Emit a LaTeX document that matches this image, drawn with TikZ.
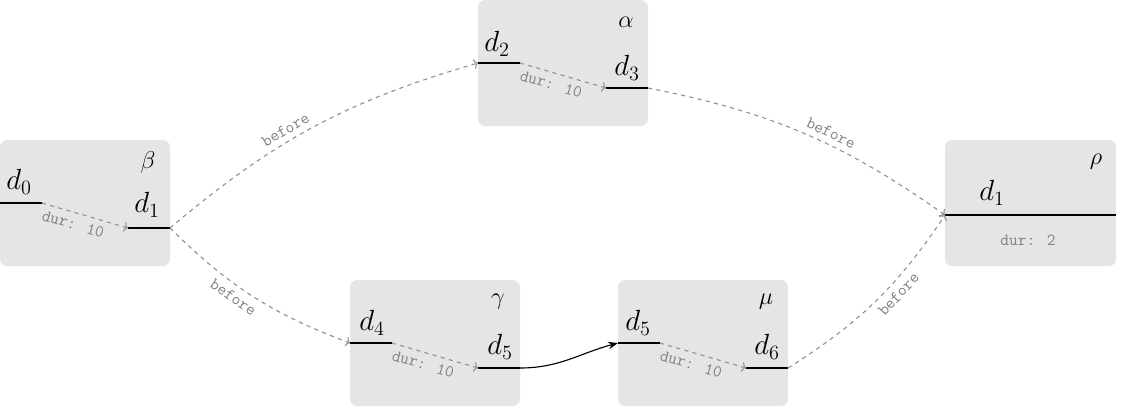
\documentclass[tikz,border=0pt]{standalone}
\usetikzlibrary{arrows.meta}
\begin{document}
\begin{tikzpicture}[x=0.025cm,y=-0.025cm]
    \tikzstyle{blok}= [fill=black!10,draw=none,rounded corners=5pt]
    \tikzstyle{dline}= [thick,black]
    \tikzstyle{sipkaD}= [gray!85,dashed,thick,-{To[length=3pt,width=7pt]}]
    \tikzstyle{sipkaB}= [gray!85,dashed,thick,-{To[length=3pt,width=7pt]}]
    \tikzstyle{sipkaS}= [black,thick,-{Stealth[length=7pt]}]
    \tikzstyle{lbl}= [font=\ttfamily\large,text=gray,inner sep=1pt]
  \useasboundingbox (0,0) rectangle (1138,409);
  % blocks: name/x/y/greek
  \foreach \n/\x/\y/\g in {beta/0/140/\beta,alpha/478/0/\alpha,gamma/350/280/\gamma,mu/618/280/\mu} {
    \fill[blok] (\x,\y) rectangle ++(170,126);
    \node[font=\LARGE] at (\x+148,\y+22) {$\g$};
    \coordinate (\n a) at (\x,\y+63);
    \coordinate (\n b) at (\x+42,\y+63);
    \coordinate (\n c) at (\x+128,\y+88);
    \coordinate (\n d) at (\x+170,\y+88);
    \draw[dline] (\n a) -- (\n b);
    \draw[dline] (\n c) -- (\n d);
    \draw[sipkaD] (\n b) -- node[lbl,sloped,below=3pt,pos=0.4] {dur: 10} (\n c);
  }
  \fill[blok] (945,140) rectangle (1116,266);
  \node[font=\LARGE] at (1096,162) {$\rho$};
  \coordinate (rhoa) at (945,215);
  \coordinate (rhob) at (1116,215);
  \draw[dline] (rhoa) -- (rhob);
  \node[lbl] at (1028,240) {dur: 2};

  \foreach \n/\x/\y/\t in {d0/19/182/0,d1/147/205/1,d2/497/44/2,d3/627/68/3,d4/372/323/4,
      d5/500/347/5,d5b/638/323/5,d6/767/347/6,d1b/992/193/1}
    \node[font=\huge] (\n) at (\x,\y) {$d_{\t}$};

  \draw[sipkaB] (betad) to[bend left=12] node[lbl,sloped,above=3pt,pos=0.42] {before} (alphaa);
  \draw[sipkaB] (betad) to[bend right=12] node[lbl,sloped,below=3pt,pos=0.42] {before} (gammaa);
  \draw[sipkaB] (alphad) to[bend left=12] node[lbl,sloped,above=3pt,pos=0.58] {before} (rhoa);
  \draw[sipkaB] (mud) to[bend right=12] node[lbl,sloped,below=3pt,pos=0.6] {before} (rhoa);
  \draw[sipkaS] (gammad) to[out=0,in=195] (mua);
\end{tikzpicture}
\end{document}
